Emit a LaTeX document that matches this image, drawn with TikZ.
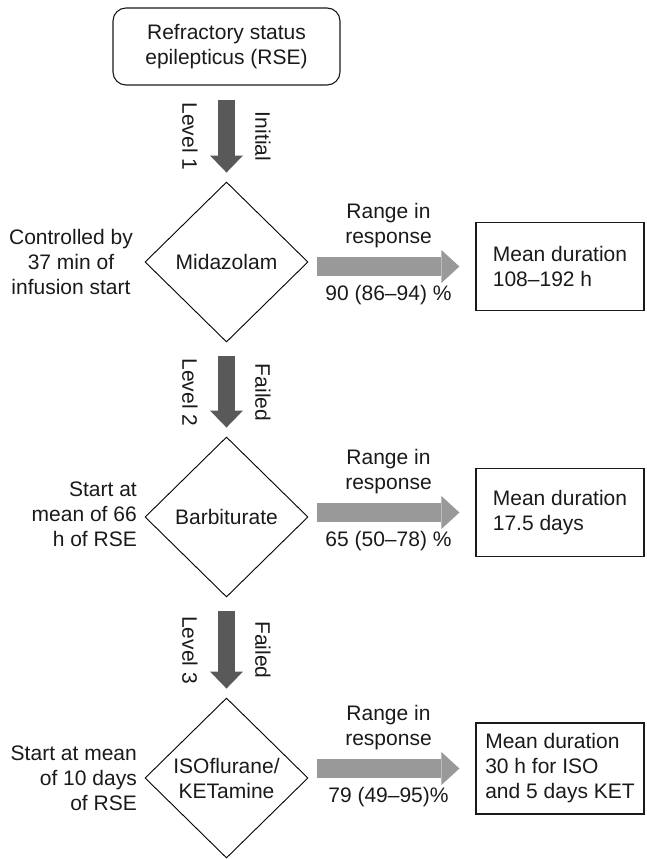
\documentclass[tikz,border=0pt]{standalone}
\usepackage{fontspec}
\setmainfont{Liberation Sans}
\usetikzlibrary{shapes.geometric,arrows.meta}

\definecolor{stepgray}{HTML}{595959}
\definecolor{resgray}{HTML}{999999}
\definecolor{ink}{HTML}{1A1A1A}

\tikzset{
  txt/.style={font=\fontsize{21}{25}\selectfont, text=ink, inner sep=0pt},
  startbox/.style={txt, draw=ink, line width=1.1pt, rounded corners=13pt,
    minimum width=227pt, minimum height=77pt, align=center},
  choice/.style={txt, draw=black, line width=0.9pt, shape=diamond,
    minimum width=163pt, minimum height=160pt, align=center},
  outbox/.style={txt, draw=ink, line width=1.2pt, minimum width=168pt,
    minimum height=88pt, align=left},
  levelarrow/.style={draw=stepgray, line width=17pt,
    -{Triangle[width=33pt,length=17pt,line width=0pt]},
    shorten <=14pt, shorten >=9pt},
  resarrow/.style={draw=resgray, line width=19pt,
    -{Triangle[width=33pt,length=18pt,line width=0pt]},
    shorten <=9pt, shorten >=16pt},
  sidelabel/.style={txt, rotate=-90},
}

\begin{document}
\begin{tikzpicture}[x=1pt,y=-1pt]
  \useasboundingbox (0,0) rectangle (646,859);

  % start and the three treatment levels
  \node[startbox] (rse) at (226.5,46.5) {Refractory status\\epilepticus (RSE)};
  \node[choice] (mid) at (226.5,262) {Midazolam};
  \node[choice] (bar) at (226.5,517) {Barbiturate};
  \node[choice] (iso) at (226.5,778) {ISOflurane/\\KETamine};

  % escalation arrows with their labels
  \draw[levelarrow] (rse.south) -- (mid.north);
  \draw[levelarrow] (mid.south) -- (bar.north);
  \draw[levelarrow] (bar.south) -- (iso.north);

  \node[sidelabel] (lv1) at (190,136.5) {Level 1};
  \node[sidelabel] (st1) at (263,136.5) {Initial};
  \node[sidelabel] (lv2) at (190,392.5) {Level 2};
  \node[sidelabel] (st2) at (263,392.5) {Failed};
  \node[sidelabel] (lv3) at (190,650) {Level 3};
  \node[sidelabel] (st3) at (263,650) {Failed};

  % timing notes left of each level
  \node[txt, align=center] (t1) at (71,262) {Controlled by\\37 min of\\infusion start};
  \node[txt, align=right, anchor=east] (t2) at (137,514) {Start at\\mean of 66\\h of RSE};
  \node[txt, align=right, anchor=east] (t3) at (137,778) {Start at mean\\of 10 days\\of RSE};

  % outcome boxes
  \node[outbox] (o1) at (560,266.5) {Mean duration\\108--192 h};
  \node[outbox] (o2) at (560,512.5) {Mean duration\\17.5 days};
  \node[outbox, minimum height=91pt] (o3) at (560,768.5) {Mean duration\\30 h for ISO\\and 5 days KET};

  % response arrows
  \draw[resarrow] (mid.east |- o1.west) -- (o1.west);
  \draw[resarrow] (bar.east |- o2.west) -- (o2.west);
  \draw[resarrow] (iso.east |- o3.west) -- (o3.west);

  \node[txt, align=center] (r1) at (388.5,226) {Range in\\response};
  \node[txt] (p1) at (388.5,295.5) {90 (86--94) \%};
  \node[txt, align=center] (r2) at (388.5,472) {Range in\\response};
  \node[txt] (p2) at (388.5,541.5) {65 (50--78) \%};
  \node[txt, align=center] (r3) at (388.5,728) {Range in\\response};
  \node[txt] (p3) at (388.5,797.5) {79 (49--95)\%};
\end{tikzpicture}
\end{document}
